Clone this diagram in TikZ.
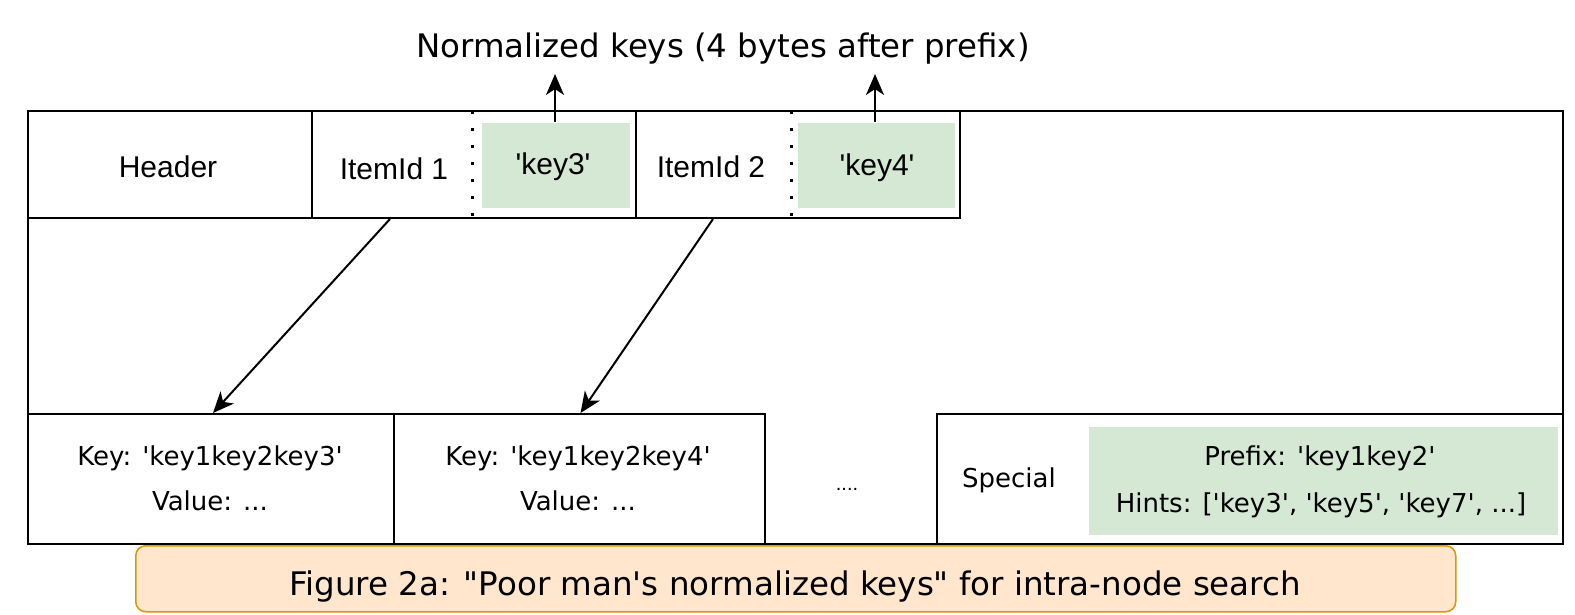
\documentclass[tikz,border=0pt]{standalone}
\usepackage{fontspec}
\usetikzlibrary{arrows.meta}
\newfontfamily\dv{DejaVu Sans}
\newfontfamily\lsans{Liberation Sans}
\definecolor{keygreen}{HTML}{D5E8D4}
\definecolor{capfill}{HTML}{FFE6CC}
\definecolor{capdraw}{HTML}{D79B00}
\begin{document}
\begin{tikzpicture}[x=1pt,y=-1pt,
  line width=2pt,
  cell/.style={draw=black, line width=2pt, inner sep=0pt, anchor=north west},
  gbox/.style={fill=keygreen, draw=none, inner sep=0pt, anchor=north west},
  arial/.style={font=\lsans\fontsize{30}{36}\selectfont, inner sep=0pt, anchor=base},
  dvt/.style={font=\dv\fontsize{26}{31}\selectfont, inner sep=0pt, anchor=base},
  dotline/.style={line width=3pt, dash pattern=on 3pt off 14pt},
  arr/.style={-{Stealth[length=21pt,width=18pt,inset=6pt]}, line width=2pt}
]
\useasboundingbox (0,0) rectangle (1575,614);
% outer frame
\node[cell, minimum width=1535pt, minimum height=433pt] (frame) at (27,110) {};
% top row
\node[cell, minimum width=284pt, minimum height=107pt] (header) at (27,110) {};
\node[cell, minimum width=324pt, minimum height=107pt] (item1) at (311,110) {};
\node[cell, minimum width=324pt, minimum height=107pt] (item2) at (635,110) {};
\node[gbox, minimum width=148pt, minimum height=85pt] (key3) at (481,122) {};
\node[gbox, minimum width=157pt, minimum height=85pt] (key4) at (797,122) {};
\draw[dotline] (472,111) -- (472,217);
\draw[dotline] (791,111) -- (791,217);
\node[arial] (thead) at (168,177) {Header};
\node[arial] (titem1) at (394,179) {ItemId 1};
\node[arial] (tkey3) at (553,174) {'key3'};
\node[arial] (titem2) at (711,177) {ItemId 2};
\node[arial] (tkey4) at (877,175) {'key4'};
% top label and arrows
\node[font=\dv\fontsize{32.4}{38}\selectfont, inner sep=0pt, anchor=base] (norm) at (723,57) {Normalized keys (4 bytes after prefix)};
\coordinate (up3) at (555,74);
\coordinate (up4) at (875,74);
\draw[arr] (key3.north -| up3) -- (up3);
\draw[arr] (key4.north -| up4) -- (up4);
% bottom row
\node[cell, minimum width=366pt, minimum height=130pt] (kv1) at (27,413) {};
\node[cell, minimum width=371pt, minimum height=130pt] (kv2) at (393,413) {};
\node[cell, minimum width=626pt, minimum height=130pt] (special) at (936,413) {};
\node[gbox, minimum width=469pt, minimum height=108pt] (hints) at (1088,426) {};
\node[dvt] (kv1a) at (210,465) {Key: 'key1key2key3'};
\node[dvt] (kv1b) at (210,510) {Value: ...};
\node[dvt] (kv2a) at (578,465) {Key: 'key1key2key4'};
\node[dvt] (kv2b) at (578,510) {Value: ...};
\node[font=\lsans\fontsize{20}{24}\selectfont, inner sep=0pt, anchor=base] (more) at (847,490) {....};
\node[dvt] (tspecial) at (1009,487) {Special};
\node[dvt] (tprefix) at (1320,465) {Prefix: 'key1key2'};
\node[dvt] (thints) at (1321,512) {Hints: ['key3', 'key5', 'key7', ...]};
% pointers
\draw[arr] ([xshift=79pt]item1.south west) -- ([xshift=2pt]kv1.north);
\draw[arr] ([xshift=78pt]item2.south west) -- ([xshift=1pt]kv2.north);
% caption
\node[draw=capdraw, fill=capfill, line width=1.5pt, rounded corners=10pt, inner sep=0pt,
  minimum width=1320pt, minimum height=66pt, anchor=north west] (capbox) at (135,545) {};
\node[font=\dv\fontsize{32.5}{39}\selectfont, inner sep=0pt, anchor=base] (captext) at (795,595)
  {Figure 2a: "Poor man's normalized keys" for intra-node search};
\end{tikzpicture}
\end{document}
